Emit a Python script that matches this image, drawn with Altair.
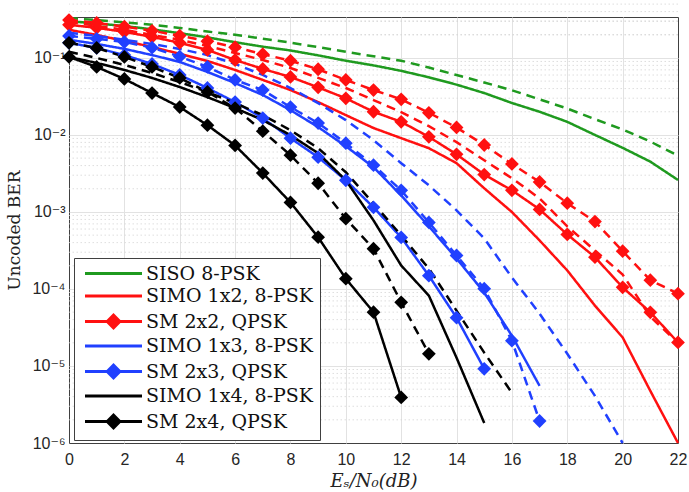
import altair as alt
import pandas as pd

# ---------------- data ----------------
names = ["SISO 8-PSK", "SIMO 1x2, 8-PSK", "SM 2x2, QPSK", "SIMO 1x3, 8-PSK",
         "SM 2x3, QPSK", "SIMO 1x4, 8-PSK", "SM 2x4, QPSK"]
colors = ["#1f9a1f", "#ff1010", "#ff1010", "#2040ff", "#2040ff", "#000000", "#000000"]
has_marker = [False, False, True, False, True, False, True]

# solid curves (simulation) – index = Es/N0 in dB starting at 0
siso_sim = [0.30, 0.28, 0.26, 0.235, 0.21, 0.185, 0.16, 0.14, 0.125, 0.108, 0.092, 0.08,
            0.068, 0.056, 0.045, 0.035, 0.026, 0.02, 0.0148, 0.010, 0.0068, 0.0045, 0.0026]
simo2_sim = [0.232, 0.199, 0.166, 0.139, 0.113, 0.0914, 0.0698, 0.0518, 0.0383, 0.0267,
             0.0181, 0.0123, 0.00908, 0.00673, 0.0043, 0.00203, 0.000998, 0.000427,
             0.000174, 6.08e-5, 2.35e-5, 4.75e-6, 1.0e-6]
sm22_sim = [0.269, 0.246, 0.218, 0.1875, 0.157, 0.127, 0.094, 0.072, 0.0566, 0.0415,
            0.0299, 0.020, 0.0148, 0.00944, 0.0056, 0.00306, 0.00191, 0.00108, 0.00051,
            0.000259, 0.000105, 4.98e-5, 2.02e-5]
simo3_sim = [0.172, 0.152, 0.131, 0.109, 0.0887, 0.0658, 0.0472, 0.033, 0.021, 0.01265,
             0.00714, 0.00381, 0.00164, 0.00065, 0.000249, 8.98e-5, 2.47e-5, 5.52e-6]
sm23_sim = [0.157, 0.135, 0.109, 0.0835, 0.0601, 0.0407, 0.0267, 0.01655, 0.00908,
            0.00514, 0.00258, 0.00115, 0.000467, 0.000149, 4.24e-5, 9.2e-6]
simo4_sim = [0.103, 0.0861, 0.0698, 0.055, 0.0419, 0.031, 0.0223, 0.0156, 0.00993, 0.0058,
             0.00258, 0.000778, 0.000202, 8.2e-5, 1.28e-5, 1.82e-6]
sm24_sim = [0.103, 0.0764, 0.0533, 0.035, 0.023, 0.0134, 0.0073, 0.0032, 0.00133, 0.00047,
            0.000136, 5.0e-5, 3.9e-6]

# dashed curves (analytical)
siso_th = [0.33, 0.31, 0.29, 0.27, 0.245, 0.22, 0.2, 0.178, 0.158, 0.138, 0.12, 0.105,
           0.092, 0.075, 0.06, 0.048, 0.038, 0.029, 0.022, 0.016, 0.0118, 0.0082, 0.0054]
simo2_th = [0.294, 0.261, 0.232, 0.199, 0.172, 0.143, 0.116, 0.094, 0.0741, 0.055, 0.0407,
            0.0284, 0.0198, 0.013, 0.00806, 0.0047, 0.00274, 0.0015, 0.00065, 0.000316,
            0.000154, 4.37e-5, 2.0e-5]
sm22_th = [0.31, 0.285, 0.255, 0.225, 0.195, 0.165, 0.138, 0.112, 0.092, 0.0713, 0.0518,
           0.0383, 0.029, 0.0194, 0.0125, 0.0074, 0.0042, 0.00245, 0.0013, 0.00075,
           0.00031, 0.00013, 8.7e-5]
simo3_th = [0.212, 0.193, 0.172, 0.152, 0.131, 0.109, 0.0835, 0.0601, 0.0407, 0.0259,
            0.0156, 0.00855, 0.0043, 0.00222, 0.00105, 0.000453, 0.000141, 4.78e-5,
            1.44e-5, 4.09e-6, 1.0e-6]
sm23_th = [0.193, 0.177, 0.161, 0.136, 0.104, 0.0764, 0.0518, 0.0383, 0.023, 0.01426,
           0.00782, 0.00405, 0.00191, 0.000732, 0.000272, 0.000101, 2.13e-5, 1.93e-6]
simo4_th = [0.12, 0.1, 0.0811, 0.0638, 0.0487, 0.0361, 0.0259, 0.0181, 0.01155, 0.00673,
            0.00328, 0.00129, 0.000496, 0.000184, 5.24e-5, 1.49e-5, 4.48e-6]
sm24_th = [0.157, 0.135, 0.103, 0.0764, 0.055, 0.0361, 0.0223, 0.0112, 0.00546, 0.00236,
           0.000818, 0.000333, 6.7e-5, 1.44e-5]

sim_curves = [siso_sim, simo2_sim, sm22_sim, simo3_sim, sm23_sim, simo4_sim, sm24_sim]
th_curves = [siso_th, simo2_th, sm22_th, simo3_th, sm23_th, simo4_th, sm24_th]

x_ticks = list(range(0, 23, 2))
y_ticks = [1e-6, 1e-5, 1e-4, 1e-3, 1e-2, 1e-1]
minor_grid = [m * 10.0 ** e for e in range(-6, 0) for m in range(2, 10)] + [0.2, 0.3]

# ---------------- long table ----------------
rows = []
for name, col, mk, s, t in zip(names, colors, has_marker, sim_curves, th_curves):
    for kind, vals in (("sim", s), ("theory", t)):
        for x, v in enumerate(vals):
            rows.append({"snr": x, "ber": v, "name": name, "hex": col, "kind": kind,
                         "line": name + "|" + kind, "marker": mk})
df = pd.DataFrame(rows)
df_leg = df[(df.kind == "sim") & (df.snr == 0)]
df_minor = pd.DataFrame({"v": minor_grid})

# ---------------- scales / axes ----------------
xscale = alt.Scale(domain=[0, 22], nice=False, zero=False)
yscale = alt.Scale(type="log", domain=[1e-6, 0.34], nice=False)

xaxis = alt.Axis(values=x_ticks, format="d", title="Eₛ/N₀(dB)",
                 labelFont="Liberation Sans", labelFontSize=16, labelColor="#262626",
                 labelPadding=8, labelFlush=False, ticks=False, domain=False,
                 grid=True, gridColor="#e2e2e2", gridWidth=1,
                 gridOpacity={"condition": {"test": "datum.value <= 0 || datum.value >= 22",
                                            "value": 0}, "value": 1},
                 titleFont="DejaVu Serif", titleFontStyle="italic", titleFontSize=18,
                 titleFontWeight="normal", titleColor="#222222", titleY=38,
                 titleBaseline="middle")
yaxis = alt.Axis(values=y_ticks,
                 labelExpr="'10' + ['⁻⁶','⁻⁵','⁻⁴','⁻³','⁻²','⁻¹'][round(log(datum.value)/LN10)+6]",
                 labelFont="Liberation Sans, DejaVu Sans", labelFontSize=16,
                 labelColor="#262626", labelPadding=4, labelFlush=False, ticks=False,
                 domain=False, grid=True, gridColor="#e2e2e2", gridWidth=1,
                 gridOpacity={"condition": {"test": "datum.value < 2e-6", "value": 0},
                              "value": 1},
                 title="Uncoded BER", titleFont="DejaVu Serif", titleFontSize=17,
                 titleFontWeight="normal", titleColor="#222222", titleX=-55, titleY=213,
                 titleAngle=270, titleAlign="center", titleBaseline="middle")

legend_scale = alt.Scale(domain=names, range=colors)
line_path = "M-4.75,0H4.75"
dia_path = "M-4.75,0H4.75M-1.05,0L0,-1.05L1.05,0L0,1.05Z"
shape_scale = alt.Scale(domain=names, range=[dia_path if m else line_path for m in has_marker])

leg = alt.Legend(title=None, orient="none", legendX=5, legendY=241, padding=6,
                 rowPadding=2.5, fillColor="white", strokeColor="#404040",
                 labelFont="DejaVu Serif", labelFontSize=19, labelColor="#111111",
                 labelOffset=23, symbolOffset=24, symbolSize=144, symbolStrokeWidth=3,
                 symbolOpacity=1, labelLimit=400, cornerRadius=0)

# ---------------- layers ----------------
minor = alt.Chart(df_minor).mark_rule(color="#d6d6d6", strokeDash=[1.5, 2.5],
                                      strokeWidth=0.8).encode(
    y=alt.Y("v:Q", scale=yscale, axis=yaxis))

lines = alt.Chart(df).mark_line(strokeWidth=2.5).encode(
    x=alt.X("snr:Q", scale=xscale, axis=xaxis),
    y=alt.Y("ber:Q", scale=yscale, axis=yaxis),
    color=alt.Color("hex:N", scale=None),
    strokeDash=alt.StrokeDash("kind:N", scale=alt.Scale(domain=["sim", "theory"],
                                                         range=[[1, 0], [9, 6]]),
                              legend=None),
    detail="line:N",
    order="snr:Q",
)

points = alt.Chart(df[df.marker]).mark_point(shape="diamond", filled=True, size=190,
                                             opacity=1).encode(
    x=alt.X("snr:Q", scale=xscale, axis=xaxis),
    y=alt.Y("ber:Q", scale=yscale, axis=yaxis),
    color=alt.Color("hex:N", scale=None),
)

legend_layer = alt.Chart(df_leg).mark_point(filled=True, opacity=0).encode(
    x=alt.X("snr:Q", scale=xscale, axis=xaxis),
    y=alt.Y("ber:Q", scale=yscale, axis=yaxis),
    fill=alt.Fill("name:N", scale=legend_scale, legend=leg),
    stroke=alt.Stroke("name:N", scale=legend_scale, legend=leg),
    shape=alt.Shape("name:N", scale=shape_scale, legend=leg),
)

chart = alt.layer(minor, lines, points, legend_layer).properties(
    width=609, height=426,
    padding={"left": 69, "top": 17, "right": 11, "bottom": 49},
    autosize=alt.AutoSizeParams(type="none"),
    background="white",
).configure_view(stroke="#404040", strokeWidth=1).configure_legend(strokeWidth=1)

chart.save("out.html", embed_options={"renderer": "svg", "actions": False})
